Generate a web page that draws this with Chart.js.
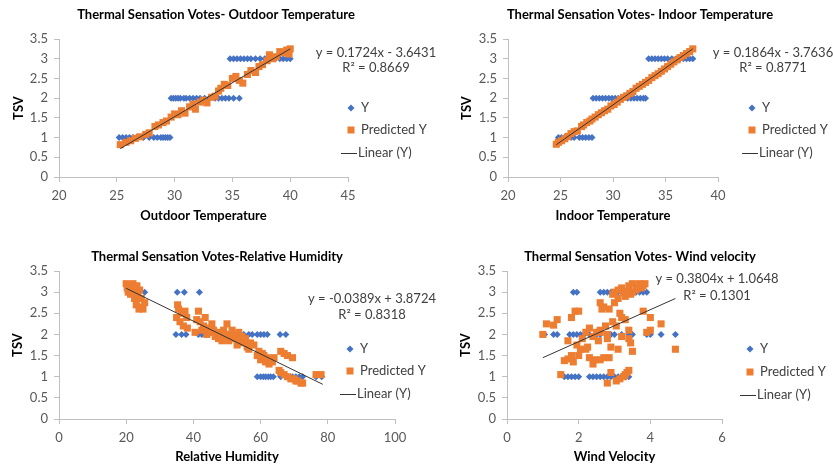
<!DOCTYPE html>
<html>
<head>
<meta charset="utf-8">
<script src="https://cdn.jsdelivr.net/npm/chart.js@4.4.1/dist/chart.umd.min.js"></script>
<style>
  html, body { margin: 0; padding: 0; background: #fff; }
  #wrap { position: relative; width: 833px; height: 467px; overflow: hidden; }
  #wrap canvas { position: absolute; left: 0; top: 0; }
</style>
</head>
<body>
<div id="wrap">
  <canvas id="c1" width="833" height="467"></canvas>
  <canvas id="c2" width="833" height="467"></canvas>
  <canvas id="c3" width="833" height="467"></canvas>
  <canvas id="c4" width="833" height="467"></canvas>
</div>
<script>
/* global Chart */

// ---- data: [x, TSV] ----
const outdoorVotes = [
  [25.2,1],[25.5,1],[25.8,1],[26.1,1],[26.4,1],[26.7,1],[27.3,1],[27.8,1],[28.2,1],[28.5,1],[28.8,1],[29.0,1],[29.2,1],[29.4,1],[29.6,1],
  [29.7,2],[29.9,2],[30.1,2],[30.3,2],[30.5,2],[30.8,2],[31.0,2],[31.3,2],[31.6,2],[31.9,2],[32.2,2],[32.6,2],[33.0,2],[33.5,2],[33.8,2],[34.1,2],[34.4,2],[34.7,2],[35.1,2],[35.6,2],
  [34.8,3],[35.1,3],[35.4,3],[35.7,3],[36.0,3],[36.3,3],[36.6,3],[37.0,3],[37.4,3],[37.8,3],[38.3,3],[38.7,3],[39.1,3],[39.4,3],[39.7,3],[40.0,3]
];
const outdoorPredicted = [
  [25.3,0.82],[25.8,0.88],[26.2,0.92],[26.6,0.98],[27.0,1.02],[27.5,1.08],[27.8,1.12],[28.3,1.28],[28.6,1.32],[29.0,1.38],
  [29.3,1.42],[29.7,1.52],[30.0,1.60],[30.3,1.58],[30.6,1.68],[30.9,1.62],[31.3,1.78],[31.6,1.85],[31.8,1.72],[32.2,1.90],
  [32.5,1.95],[32.8,1.88],[33.2,2.02],[33.5,2.05],[33.8,2.18],[34.0,2.25],[34.3,2.35],[34.6,2.32],[35.0,2.50],[35.3,2.55],
  [35.6,2.45],[35.9,2.38],[36.3,2.60],[36.6,2.70],[37.0,2.65],[37.3,2.80],[37.6,2.85],[38.0,2.95],[38.2,3.10],[38.5,3.00],
  [38.8,3.05],[39.1,3.18],[39.4,3.15],[39.7,3.22],[39.9,3.12],[40.0,3.25]
];
const outdoorTrend = [[25.3,0.72],[40.0,3.25]];
const outdoorEquation = ['y = 0.1724x - 3.6431', 'R\u00B2 = 0.8669'];

const indoorVotes = [
  [24.8,1],[25.1,1],[25.4,1],[25.7,1],[26.0,1],[26.3,1],[26.8,1],[27.1,1],[27.4,1],[27.7,1],[28.0,1],
  [28.1,2],[28.4,2],[28.7,2],[29.0,2],[29.3,2],[29.6,2],[29.9,2],[30.2,2],[30.5,2],[31.4,2],[31.7,2],[32.0,2],[32.3,2],[32.6,2],[32.9,2],[33.1,2],
  [33.4,3],[33.7,3],[34.0,3],[34.3,3],[34.6,3],[34.9,3],[35.2,3],[35.6,3],[36.0,3],[36.4,3],[36.7,3],[37.0,3],[37.3,3],[37.6,3]
];
const indoorPredicted = [
  [24.6,0.83],[24.8,0.88],[25.1,0.92],[25.4,0.97],[25.7,1.03],[26.0,1.10],[26.3,1.15],[26.6,1.17],[27.0,1.28],[27.2,1.32],
  [27.5,1.38],[27.8,1.42],[28.0,1.47],[28.3,1.52],[28.6,1.58],[28.9,1.63],[29.2,1.68],[29.5,1.72],[29.8,1.80],[30.1,1.84],
  [30.4,1.90],[30.7,1.97],[31.0,2.02],[31.3,2.06],[31.6,2.12],[31.9,2.17],[32.2,2.25],[32.5,2.30],[32.8,2.35],[33.1,2.40],
  [33.4,2.45],[33.7,2.52],[34.0,2.57],[34.3,2.62],[34.6,2.68],[34.9,2.74],[35.2,2.80],[35.5,2.86],[35.8,2.92],[36.1,2.97],
  [36.4,3.03],[36.7,3.08],[37.0,3.13],[37.3,3.18],[37.6,3.25]
];
const indoorTrend = [[24.6,0.82],[37.6,3.25]];
const indoorEquation = ['y = 0.1864x - 3.7636', 'R\u00B2 = 0.8771'];

const humidityVotes = [
  [20.5,3],[21.5,3],[22.5,3],[23.5,3],[25.5,3],[35.2,3],[37.3,3],[41.8,3],
  [34.8,2],[36.5,2],[37.8,2],[41.5,2],[42.5,2],[43.5,2],[44.5,2],[52,2],[53,2],[54,2],[55,2],[56.5,2],[57.5,2],[59,2],[60,2],[61,2],[62,2],[65.8,2],[67.5,2],
  [59,1],[60,1],[60.8,1],[61.5,1],[62.3,1],[63,1],[63.8,1],[66,1],[69.5,1],[70.5,1],[71.5,1],[72.5,1],[76.5,1],[78.2,1]
];
const humidityPredicted = [
  [20,3.2],[20.3,3.1],[20.6,3.0],[21,3.15],[21.3,2.95],[21.6,3.05],[22,3.2],[22.3,3.1],[22.5,2.85],[22.8,3.0],
  [23,2.7],[23.2,3.15],[23.5,2.95],[23.8,2.6],[24,3.05],[24.2,2.65],[24.5,2.85],[25,2.6],[25.5,2.75],
  [35,2.4],[35.3,2.7],[35.6,2.6],[36,2.3],[36.5,2.5],[37,2.2],[37.5,2.55],[38,2.4],[38.2,2.15],
  [40.5,2.05],[41,2.35],[41.5,2.55],[42,2.3],[42.5,2.1],[43,2.2],[43.5,2.4],[44,2.0],[44.5,2.15],[45,2.05],
  [45.5,2.25],[46,2.1],[46.5,1.95],[47,2.05],[47.5,1.9],[48,2.0],[48.5,1.85],[49,2.1],[49.5,1.95],[50,2.25],
  [50.5,1.85],[51,2.0],[51.5,2.1],[52,1.9],[52.5,1.95],[53,1.75],[53.5,2.05],[54,1.8],[54.5,1.95],[55,1.85],
  [55.5,1.9],[56,1.7],[56.5,1.65],[57,1.8],[58,1.75],[59,1.5],[59.5,1.6],[60,1.4],[60.5,1.55],[61,1.5],
  [61.5,1.35],[62,1.45],[62.5,1.3],[63,1.4],[63.5,1.35],[64,1.45],
  [66,1.6],[67,1.55],[68,1.5],[69.5,1.45],
  [65.5,1.15],[66,1.1],[67,1.05],[68,1.0],[69,0.95],[70,0.95],[70.5,0.9],[71,0.9],[72,0.85],[72.5,0.85],
  [76.5,1.05],[78,1.05]
];
const humidityTrend = [[20,3.09],[78.5,0.82]];
const humidityEquation = ['y = -0.0389x + 3.8724', 'R\u00B2 = 0.8318'];

const windVotes = [
  [1.85,3],[1.95,3],[2.6,3],[2.7,3],[2.8,3],[2.9,3],[3.0,3],[3.1,3],[3.2,3],[3.3,3],[3.5,3],[3.6,3],[3.7,3],[3.8,3],[3.9,3],
  [1.05,2],[1.3,2],[1.4,2],[1.75,2],[1.85,2],[1.95,2],[2.05,2],[2.15,2],[2.3,2],[2.5,2],[2.6,2],[2.9,2],[3.0,2],[3.2,2],[3.4,2],[3.5,2],[3.9,2],[4.0,2],[4.3,2],[4.7,2],
  [1.6,1],[1.7,1],[1.8,1],[1.9,1],[2.0,1],[2.3,1],[2.4,1],[2.5,1],[2.6,1],[2.7,1],[2.8,1],[2.9,1],[3.0,1],[3.1,1],[3.2,1],[3.3,1],[3.4,1]
];
const windPredicted = [
  [1.0,2.0],[1.1,2.25],[1.3,2.22],[1.4,2.35],[1.5,1.05],[1.6,1.38],[1.7,1.42],[1.7,1.85],[1.8,1.5],[1.8,2.4],
  [1.9,2.55],[2.0,2.55],[1.85,1.35],[1.95,1.75],[2.0,1.5],[2.05,1.65],[2.1,1.9],[2.2,2.05],[2.25,1.7],[2.3,2.15],
  [2.3,1.45],[2.4,1.3],[2.4,1.95],[2.45,1.4],[2.5,2.05],[2.55,1.85],[2.6,1.4],[2.6,2.75],[2.6,2.1],[2.65,2.6],
  [2.7,2.65],[2.7,1.45],[2.75,2.2],[2.8,1.9],[2.8,2.0],[2.8,0.85],[2.85,1.45],[2.85,2.6],[2.9,1.7],[2.95,2.3],
  [2.95,2.95],[3.0,2.75],[3.0,3.0],[3.05,0.9],[3.05,2.2],[3.1,2.85],[3.1,3.05],[3.1,1.65],[3.15,2.5],[3.15,0.95],
  [3.2,3.1],[3.2,2.4],[3.2,1.95],[3.25,1.0],[3.25,3.0],[3.3,2.9],[3.3,2.35],[3.3,1.05],[3.35,1.1],[3.4,3.15],
  [3.4,1.9],[3.4,2.1],[3.4,1.15],[3.45,1.8],[3.5,3.0],[3.5,3.2],[3.5,1.6],[3.6,3.05],[3.65,3.1],[3.7,3.2],
  [3.75,3.1],[3.8,3.15],[3.85,3.2],[3.8,2.55],[3.9,2.05],[4.0,2.4],[4.0,2.1],[4.3,2.25],[4.7,1.65],[3.35,3.0],
  [3.45,2.95],[2.9,1.1],[2.2,1.65],[2.6,2.05]
];
const windTrend = [[1.0,1.45],[4.7,2.85]];
const windEquation = ['y = 0.3804x + 1.0648', 'R\u00B2 = 0.1301'];

const legendLabels = ['Y', 'Predicted Y', 'Linear (Y)'];
const tsvTicks = { min: 0, max: 3.5, step: 0.5 };

// ---- layout of the four panels (pixel positions on the page) ----
const panels = [
  { id: 'c1', area: [59, 39, 348, 177], x: [20, 45, 5],
    title: 'Thermal Sensation Votes- Outdoor Temperature', titleAt: [216, 15],
    xTitle: 'Outdoor Temperature', xTitleY: 216, yTitleX: 19,
    eqAt: [376, 53, 68], legendAt: [351, 108, 130, 153],
    votes: outdoorVotes, pred: outdoorPredicted, trend: outdoorTrend, eq: outdoorEquation },
  { id: 'c2', area: [508, 39, 718, 177], x: [20, 40, 5],
    title: 'Thermal Sensation Votes- Indoor Temperature', titleAt: [640, 15],
    xTitle: 'Indoor Temperature', xTitleY: 216, yTitleX: 467,
    eqAt: [773, 53, 68], legendAt: [752, 108, 130, 153],
    votes: indoorVotes, pred: indoorPredicted, trend: indoorTrend, eq: indoorEquation },
  { id: 'c3', area: [59, 271, 395, 419], x: [0, 100, 20],
    title: 'Thermal Sensation Votes-Relative Humidity', titleAt: [217, 257],
    xTitle: 'Relative Humidity', xTitleY: 457, yTitleX: 18,
    eqAt: [372, 299, 315], legendAt: [350, 349, 371, 394],
    votes: humidityVotes, pred: humidityPredicted, trend: humidityTrend, eq: humidityEquation },
  { id: 'c4', area: [507, 271, 722, 419], x: [0, 6, 2],
    title: 'Thermal Sensation Votes- Wind velocity', titleAt: [640, 257],
    xTitle: 'Wind Velocity', xTitleY: 457, yTitleX: 466,
    eqAt: [717, 279, 296], legendAt: [750, 349, 372, 395],
    votes: windVotes, pred: windPredicted, trend: windTrend, eq: windEquation }
];

const BLUE = '#4472C4';
const ORANGE = '#ED7D31';
const AXIS = '#BFBFBF';
const TEXT = '#404040';
const FONT = 'Lato';
const FS = 13;
const Y_AXIS_W = 45;   // room kept for y tick labels
const X_AXIS_H = 30;   // room kept for x tick labels

const toPts = (rows) => rows.map(r => ({ x: r[0], y: r[1] }));

// titles, equation and legend drawn on top of each panel
const panelText = {
  id: 'panelText',
  afterDraw(chart, args, p) {
    const ctx = chart.ctx;
    const a = chart.chartArea;
    ctx.save();
    ctx.textBaseline = 'middle';
    ctx.textAlign = 'center';
    ctx.fillStyle = '#000';
    ctx.font = `bold ${FS}px ${FONT}`;
    ctx.fillText(p.title, p.titleAt[0], p.titleAt[1]);
    ctx.fillText(p.xTitle, (a.left + a.right) / 2, p.xTitleY);
    ctx.save();
    ctx.translate(p.yTitleX, (a.top + a.bottom) / 2);
    ctx.rotate(-Math.PI / 2);
    ctx.fillText('TSV', 0, 0);
    ctx.restore();

    ctx.fillStyle = TEXT;
    ctx.font = `${FS}px ${FONT}`;
    ctx.fillText(p.eq[0], p.eqAt[0], p.eqAt[1]);
    ctx.fillText(p.eq[1], p.eqAt[0], p.eqAt[2]);

    const [lx, y1, y2, y3] = p.legendAt;
    // diamond
    ctx.fillStyle = BLUE;
    ctx.beginPath();
    ctx.moveTo(lx, y1 - 3.5); ctx.lineTo(lx + 3.5, y1); ctx.lineTo(lx, y1 + 3.5); ctx.lineTo(lx - 3.5, y1);
    ctx.closePath(); ctx.fill();
    // square
    ctx.fillStyle = ORANGE;
    ctx.fillRect(lx - 3.5, y2 - 3.5, 7, 7);
    // line
    ctx.strokeStyle = '#333';
    ctx.lineWidth = 1;
    ctx.beginPath(); ctx.moveTo(lx - 10, y3 + 0.5); ctx.lineTo(lx + 6, y3 + 0.5); ctx.stroke();

    ctx.fillStyle = TEXT;
    ctx.textAlign = 'left';
    ctx.fillText(legendLabels[0], lx + 10, y1);
    ctx.fillText(legendLabels[1], lx + 10, y2);
    ctx.fillText(legendLabels[2], lx + 7, y3);
    ctx.restore();
  }
};

function axisCommon() {
  return {
    grid: { display: true, drawOnChartArea: false, drawTicks: true, tickLength: 5, color: AXIS },
    border: { display: true, color: AXIS, width: 1 },
    ticks: { color: '#595959', padding: 6, font: { family: FONT, size: FS }, callback: (v) => String(v) }
  };
}

function buildPanel(p) {
  const W = 833, H = 467;
  const xAxis = axisCommon();
  const yAxis = axisCommon();
  const ctx = document.getElementById(p.id).getContext('2d');
  return new Chart(ctx, {
    type: 'scatter',
    data: {
      datasets: [
        {
          label: legendLabels[2],
          data: toPts(p.trend),
          showLine: true,
          borderColor: '#333',
          borderWidth: 1,
          pointRadius: 0,
          order: 0
        },
        {
          label: legendLabels[1],
          data: toPts(p.pred),
          pointStyle: 'rect',
          pointRadius: 5,
          backgroundColor: ORANGE,
          borderColor: ORANGE,
          borderWidth: 0,
          order: 1
        },
        {
          label: legendLabels[0],
          data: toPts(p.votes),
          pointStyle: 'rectRot',
          pointRadius: 3.5,
          backgroundColor: BLUE,
          borderColor: BLUE,
          borderWidth: 0,
          order: 2
        }
      ]
    },
    options: {
      responsive: false,
      animation: false,
      devicePixelRatio: 1,
      layout: {
        padding: {
          left: p.area[0] - Y_AXIS_W,
          top: p.area[1],
          right: W - p.area[2],
          bottom: H - p.area[3] - X_AXIS_H
        }
      },
      plugins: {
        legend: { display: false },
        title: { display: false },
        tooltip: { enabled: false },
        panelText: p
      },
      scales: {
        x: {
          type: 'linear', position: 'bottom',
          min: p.x[0], max: p.x[1],
          ...xAxis,
          ticks: { ...xAxis.ticks, stepSize: p.x[2], maxRotation: 0 },
          afterFit: (s) => { s.height = X_AXIS_H; }
        },
        y: {
          type: 'linear', position: 'left',
          min: tsvTicks.min, max: tsvTicks.max,
          ...yAxis,
          ticks: { ...yAxis.ticks, stepSize: tsvTicks.step },
          afterFit: (s) => { s.width = Y_AXIS_W; }
        }
      }
    },
    plugins: [panelText]
  });
}

panels.forEach(buildPanel);
</script>
</body>
</html>
